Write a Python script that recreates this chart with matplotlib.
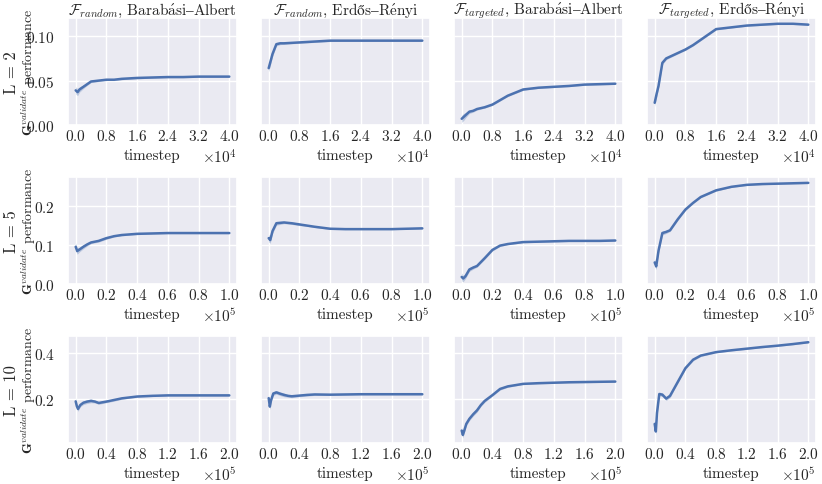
import matplotlib
matplotlib.use("Agg")
import matplotlib.pyplot as plt
import seaborn as sns
import numpy as np

# column titles and row labels
titles = [r"$\mathcal{F}_{random}$, $\mathrm{Barab\acute{a}si–Albert}$",
          r"$\mathcal{F}_{random}$, $\mathrm{Erdős–R\acute{e}nyi}$",
          r"$\mathcal{F}_{targeted}$, $\mathrm{Barab\acute{a}si–Albert}$",
          r"$\mathcal{F}_{targeted}$, $\mathrm{Erdős–R\acute{e}nyi}$"]
row_labels = ["L = 2", "L = 5", "L = 10"]

# L = 2
x_L2 = [0, 500, 1000, 2000, 3000, 4000, 6000, 8000, 10000, 12000, 16000,
        20000, 24000, 28000, 32000, 36000, 40000]
ba_rand_L2 = [0.039, 0.037, 0.040, 0.043, 0.046, 0.049, 0.050, 0.051, 0.051,
              0.052, 0.053, 0.0535, 0.054, 0.054, 0.0545, 0.0545, 0.0545]
er_rand_L2 = [0.064, 0.072, 0.080, 0.091, 0.092, 0.092, 0.0925, 0.093, 0.0935,
              0.094, 0.095, 0.095, 0.095, 0.095, 0.095, 0.095, 0.095]
ba_targ_L2 = [0.007, 0.009, 0.011, 0.015, 0.016, 0.018, 0.020, 0.023, 0.028,
              0.033, 0.040, 0.042, 0.043, 0.044, 0.0455, 0.046, 0.0465]
er_targ_L2 = [0.025, 0.035, 0.044, 0.070, 0.075, 0.077, 0.081, 0.085, 0.090,
              0.096, 0.108, 0.110, 0.112, 0.113, 0.114, 0.114, 0.113]
band_L2 = [0.004, 0.004, 0.003, 0.002, 0.0015, 0.0012, 0.001, 0.001, 0.001,
           0.001, 0.001, 0.0008, 0.0008, 0.0008, 0.0008, 0.0008, 0.0008]

# L = 5
x_L5 = [0, 1000, 2500, 5000, 7500, 10000, 15000, 20000, 25000, 30000, 40000,
        50000, 60000, 70000, 80000, 90000, 100000]
ba_rand_L5 = [0.095, 0.084, 0.088, 0.095, 0.101, 0.106, 0.110, 0.117, 0.122,
              0.125, 0.128, 0.129, 0.130, 0.130, 0.130, 0.130, 0.130]
er_rand_L5 = [0.117, 0.112, 0.135, 0.155, 0.156, 0.157, 0.155, 0.152, 0.149,
              0.146, 0.141, 0.140, 0.140, 0.140, 0.140, 0.141, 0.142]
ba_targ_L5 = [0.018, 0.014, 0.020, 0.037, 0.042, 0.046, 0.066, 0.087, 0.098,
              0.102, 0.107, 0.108, 0.109, 0.110, 0.110, 0.110, 0.111]
er_targ_L5 = [0.055, 0.045, 0.085, 0.130, 0.133, 0.137, 0.165, 0.190, 0.207,
              0.222, 0.239, 0.248, 0.253, 0.255, 0.256, 0.257, 0.258]
band_L5 = [0.010, 0.008, 0.006, 0.005, 0.004, 0.003, 0.003, 0.003, 0.002,
           0.002, 0.002, 0.0015, 0.0015, 0.0015, 0.0015, 0.0015, 0.0015]

# L = 10
x_L10 = [0, 1500, 3000, 6000, 10000, 15000, 20000, 25000, 30000, 40000, 50000,
         60000, 80000, 100000, 120000, 140000, 160000, 180000, 200000]
ba_rand_L10 = [0.191, 0.170, 0.158, 0.175, 0.185, 0.190, 0.193, 0.190, 0.184,
               0.190, 0.197, 0.204, 0.212, 0.215, 0.217, 0.217, 0.217, 0.217, 0.217]
er_rand_L10 = [0.205, 0.168, 0.195, 0.225, 0.230, 0.224, 0.219, 0.215, 0.213,
               0.216, 0.219, 0.221, 0.220, 0.221, 0.222, 0.222, 0.222, 0.222, 0.222]
ba_targ_L10 = [0.064, 0.045, 0.060, 0.093, 0.115, 0.135, 0.152, 0.175, 0.193,
               0.218, 0.245, 0.256, 0.267, 0.270, 0.272, 0.274, 0.275, 0.276, 0.277]
er_targ_L10 = [0.093, 0.060, 0.140, 0.223, 0.220, 0.203, 0.215, 0.245, 0.275,
               0.335, 0.372, 0.390, 0.405, 0.413, 0.420, 0.427, 0.433, 0.440, 0.448]
band_L10 = [0.015, 0.012, 0.010, 0.008, 0.008, 0.008, 0.008, 0.006, 0.006,
            0.005, 0.005, 0.004, 0.003, 0.003, 0.003, 0.003, 0.003, 0.003, 0.003]

rows = [(x_L2, [ba_rand_L2, er_rand_L2, ba_targ_L2, er_targ_L2], band_L2),
        (x_L5, [ba_rand_L5, er_rand_L5, ba_targ_L5, er_targ_L5], band_L5),
        (x_L10, [ba_rand_L10, er_rand_L10, ba_targ_L10, er_targ_L10], band_L10)]

xticks = [[0, 8000, 16000, 24000, 32000, 40000],
          [0, 20000, 40000, 60000, 80000, 100000],
          [0, 40000, 80000, 120000, 160000, 200000]]
yticks = [[0.0, 0.05, 0.10], [0.0, 0.1, 0.2], [0.2, 0.4]]
ylims = [(0, 0.1205), (0, 0.273), (0.01, 0.475)]

sns.set_theme(style="darkgrid")
plt.rcParams["font.family"] = ["cmr10", "DejaVu Serif"]
plt.rcParams["mathtext.fontset"] = "cm"
plt.rcParams["axes.formatter.use_mathtext"] = True
plt.rcParams["axes.unicode_minus"] = False

color = "#4C72B0"

fig, axes = plt.subplots(3, 4, figsize=(8.22, 4.85), dpi=100, sharey="row")
fig.subplots_adjust(left=68/822, right=816/822, top=1-19/485, bottom=1-444/485,
                    wspace=0.142, hspace=0.486)

for i, (x, curves, band) in enumerate(rows):
    for j, y in enumerate(curves):
        ax = axes[i, j]
        y = np.array(y)
        b = np.array(band)
        ax.fill_between(x, y - b, y + b, color=color, alpha=0.3, lw=0)
        ax.plot(x, y, color=color, lw=1.8)
        ax.set_xticks(xticks[i])
        ax.ticklabel_format(axis="x", style="sci", scilimits=(0, 0))
        ax.set_ylim(*ylims[i])
        ax.set_yticks(yticks[i])
        ax.tick_params(labelsize=11)
        ax.tick_params(axis="x", pad=-4)
        ax.xaxis.get_offset_text().set_fontsize(11)
        ax.set_xlabel("timestep", fontsize=11, labelpad=4)
        if i == 0:
            ax.set_title(titles[j], fontsize=11, pad=3)
        if j == 0:
            ax.set_ylabel(r"$\mathbf{G}^{validate}$ performance", fontsize=10)
            ax.yaxis.set_label_coords(-0.175, 0.5)
            pos = ax.get_position()
            fig.text(11/822, (pos.y0 + pos.y1)/2, row_labels[i], rotation=90,
                     ha="center", va="center", fontsize=12)

fig.savefig("out.png", dpi=100)
